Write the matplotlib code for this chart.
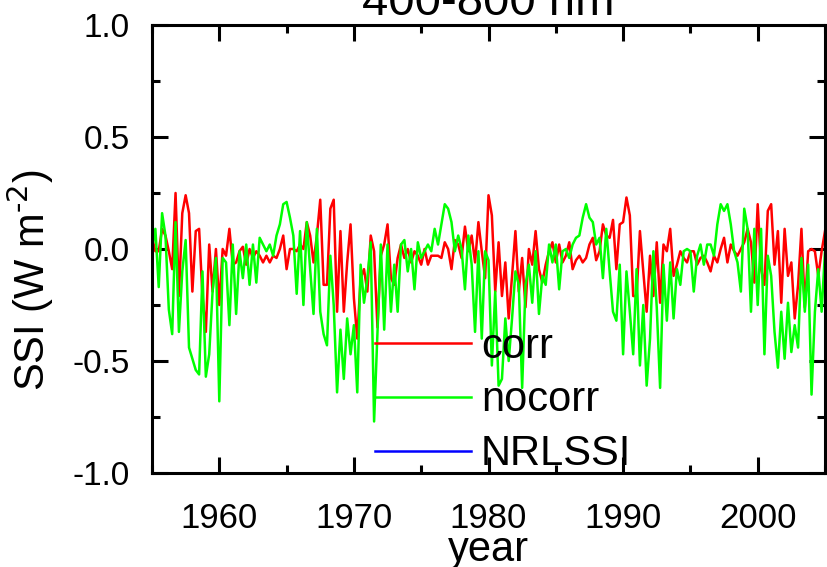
import numpy as np
import matplotlib
matplotlib.use('Agg')
import matplotlib.pyplot as plt
from matplotlib.ticker import MultipleLocator, FormatStrFormatter

plt.rcParams['font.family'] = ['Liberation Sans', 'DejaVu Sans']
plt.rcParams['mathtext.default'] = 'regular'

# quarterly samples, 1955.0 .. 2005.0
start_year = 1955.0
step = 0.25

corr = [
    0.05, -0.01, -0.01, 0.09, 0.06, -0.01, -0.09, 0.25, -0.21, 0.16,
    0.24, 0.16, -0.19, 0.08, 0.09, -0.21, -0.37, 0.02, -0.19, 0.00,
    -0.25, 0.00, -0.03, 0.09, -0.07, -0.06, -0.01, 0.01, -0.07, 0.00,
    -0.04, -0.01, -0.03, -0.06, -0.03, -0.06, -0.03, -0.04, 0.00, 0.06,
    -0.09, 0.00, 0.00, -0.01, 0.02, 0.00, 0.12, 0.06, -0.06, 0.06,
    0.22, -0.16, -0.16, 0.18, 0.22, -0.28, 0.08, -0.28, -0.06, 0.11,
    -0.22, -0.40, -0.13, -0.09, -0.19, 0.06, -0.01, -0.35, -0.03, 0.02,
    0.11, -0.13, -0.16, -0.04, 0.02, -0.04, 0.00, -0.06, -0.01, -0.03,
    -0.07, 0.00, -0.07, -0.03, -0.03, -0.03, -0.04, 0.03, 0.00, -0.09,
    0.04, 0.02, -0.04, 0.10, -0.01, 0.06, -0.06, 0.12, -0.01, -0.13,
    0.24, 0.15, -0.19, 0.03, -0.21, -0.06, -0.31, -0.12, 0.08, -0.19,
    -0.04, -0.26, 0.00, -0.07, 0.08, -0.09, -0.15, -0.07, -0.01, 0.03,
    -0.06, 0.02, -0.06, -0.03, 0.03, -0.09, -0.05, -0.03, -0.06, -0.04,
    0.02, 0.05, -0.05, -0.01, 0.11, 0.06, 0.05, 0.13, -0.09, 0.11,
    0.12, 0.23, 0.15, -0.21, -0.21, 0.08, -0.10, -0.28, -0.03, -0.21,
    0.03, -0.24, 0.02, -0.01, 0.09, -0.12, -0.07, -0.01, -0.04, -0.06,
    -0.01, -0.01, -0.07, -0.04, -0.03, -0.06, -0.10, -0.03, -0.06, 0.00,
    0.05, -0.06, 0.02, -0.01, -0.03, 0.00, 0.03, 0.09, 0.03, -0.15,
    0.20, -0.09, -0.16, 0.17, 0.20, -0.07, 0.08, -0.24, 0.09, -0.12,
    -0.06, -0.31, -0.16, 0.09, -0.26, -0.01, 0.00, -0.01, -0.12, -0.01,
    0.08,
]

nocorr = [
    0.00, 0.09, -0.17, 0.16, 0.06, -0.27, -0.38, 0.12, -0.37, -0.10,
    0.04, -0.44, -0.49, -0.54, -0.56, -0.10, -0.57, -0.47, -0.19, -0.04,
    -0.68, -0.04, -0.06, -0.34, 0.02, -0.29, -0.01, -0.13, 0.02, -0.16,
    0.02, -0.15, 0.05, 0.02, -0.01, 0.02, -0.03, 0.06, 0.11, 0.20,
    0.21, 0.14, 0.06, -0.20, 0.08, -0.25, 0.12, -0.09, -0.29, 0.09,
    -0.28, -0.38, -0.43, -0.03, -0.25, -0.64, -0.36, -0.58, -0.31, -0.47,
    -0.34, -0.64, -0.07, -0.24, -0.13, 0.03, -0.77, -0.37, 0.02, -0.36,
    0.02, -0.28, -0.07, -0.28, 0.02, 0.04, -0.10, 0.00, -0.18, 0.03,
    -0.04, -0.01, 0.02, -0.01, 0.09, 0.02, 0.11, 0.20, 0.18, 0.12,
    -0.01, 0.06, 0.00, -0.18, 0.06, -0.07, -0.37, -0.01, -0.40, -0.01,
    -0.05, -0.52, -0.19, -0.61, -0.58, -0.31, -0.50, -0.31, -0.10, -0.16,
    -0.62, -0.16, -0.07, -0.24, -0.01, -0.29, -0.12, -0.16, 0.02, -0.06,
    0.02, -0.18, -0.01, 0.00, -0.04, 0.02, 0.05, 0.06, 0.14, 0.20,
    0.14, 0.12, 0.02, 0.05, -0.13, 0.09, -0.10, -0.28, -0.32, -0.07,
    -0.47, -0.10, -0.28, -0.47, -0.09, -0.52, -0.25, -0.61, -0.40, -0.01,
    -0.26, -0.62, -0.07, -0.32, -0.06, -0.31, -0.09, -0.16, -0.01, 0.00,
    -0.01, -0.19, -0.03, 0.02, -0.07, 0.02, 0.02, -0.03, 0.11, 0.20,
    0.17, 0.20, 0.11, -0.01, -0.06, -0.19, 0.18, 0.09, -0.28, 0.09,
    -0.25, 0.09, -0.47, -0.03, -0.12, -0.37, -0.53, -0.28, -0.49, -0.24,
    -0.46, -0.34, -0.44, -0.04, -0.28, -0.07, -0.65, -0.28, -0.09, -0.28,
    -0.01,
]

# NRLSSI: no visible curve in the panel, only the legend entry
nrlssi_years = []
nrlssi = []

years = start_year + step * np.arange(len(corr))

fig = plt.figure(figsize=(8.27, 5.67), dpi=100)
ax = fig.add_axes([152 / 827, 1 - 473 / 567, 673 / 827, 448 / 567])

ax.plot(years, corr, color='#ff0000', lw=1.8, label='corr')
ax.plot(years, nocorr, color='#00ff00', lw=1.8, label='nocorr')
ax.plot(nrlssi_years, nrlssi, color='#0000ff', lw=1.8, label='NRLSSI')

ax.set_xlim(1955.0, 2005.0)
ax.set_ylim(-1.0, 1.0)
ax.xaxis.set_major_locator(MultipleLocator(10))
ax.xaxis.set_minor_locator(MultipleLocator(5))
ax.yaxis.set_major_locator(MultipleLocator(0.5))
ax.yaxis.set_minor_locator(MultipleLocator(0.25))
ax.yaxis.set_major_formatter(FormatStrFormatter('%.1f'))

for sp in ax.spines.values():
    sp.set_linewidth(2.2)
ax.tick_params(which='both', direction='in', top=True, right=True, width=2.2)
ax.tick_params(which='major', length=11.5)
ax.tick_params(which='minor', length=6)
ax.tick_params(axis='x', labelsize=25, pad=21)
ax.tick_params(axis='y', labelsize=24, pad=16)

ax.set_xlabel('year', fontsize=30, labelpad=-4)
ax.set_ylabel('SSI (W m$^{\\text{-2}}$)', fontsize=30)
ax.yaxis.set_label_coords(-0.142, 0.43)
ax.set_title('400-800 nm', fontsize=34, pad=4)

ax.legend(loc='center left', bbox_to_anchor=(0.331, 0.162), frameon=False,
          fontsize=30, handlelength=2.3, handletextpad=0.25,
          labelspacing=0.33, borderpad=0, borderaxespad=0)

fig.savefig('out.png', dpi=100)
